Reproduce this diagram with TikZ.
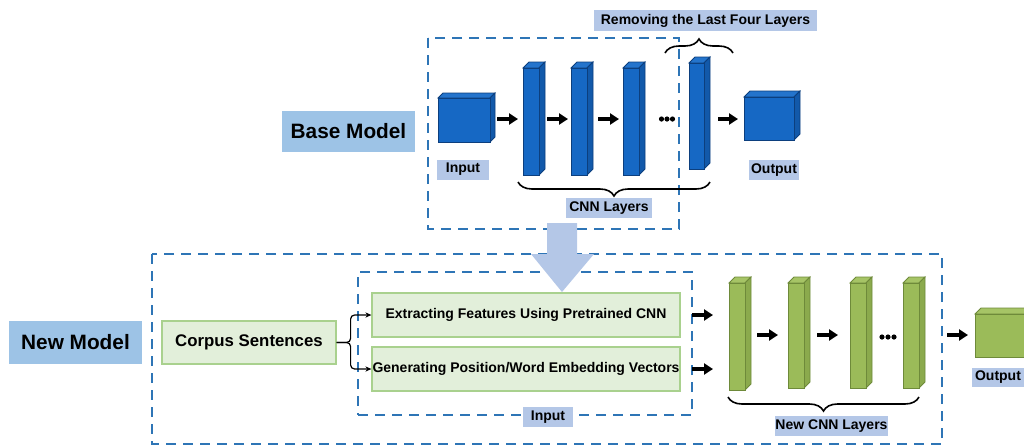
\documentclass[tikz,border=0pt]{standalone}
\usepackage{fontspec}
\setmainfont{Liberation Sans}
\usetikzlibrary{arrows.meta,decorations.pathreplacing}
\definecolor{bfront}{HTML}{1668C4}
\definecolor{btop}{HTML}{2474CC}
\definecolor{bside}{HTML}{1259AA}
\definecolor{bedge}{HTML}{0C3F7E}
\definecolor{gfront}{HTML}{9BBB59}
\definecolor{gtop}{HTML}{A6C466}
\definecolor{gside}{HTML}{8BAA4D}
\definecolor{gedge}{HTML}{6E8A3A}
\definecolor{dashblue}{HTML}{2E75B6}
\definecolor{bigbl}{HTML}{9DC3E6}
\definecolor{lblbl}{HTML}{B4C7E7}
\definecolor{arrbl}{HTML}{B4C7E7}
\definecolor{gbox}{HTML}{E2EFDA}
\definecolor{gboxe}{HTML}{A9D18E}
\newcommand\cuboid[7]{%
 \filldraw[fill=#7top,draw=#7edge,line width=0.4pt] (#2,#3) -- ({#2+#6},{#3-#6}) -- ({#4+#6},{#3-#6}) -- (#4,#3) -- cycle;
 \filldraw[fill=#7side,draw=#7edge,line width=0.4pt] (#4,#3) -- ({#4+#6},{#3-#6}) -- ({#4+#6},{#5-#6}) -- (#4,#5) -- cycle;
 \node[draw=#7edge,fill=#7front,line width=0.4pt,inner sep=0pt,outer sep=0pt,anchor=north west,minimum width={(#4-#2)*0.5pt},minimum height={(#5-#3)*0.5pt}] (#1) at (#2,#3) {};
}
\begin{document}
\begin{tikzpicture}[x=0.5pt,y=-0.5pt,
  lbl/.style={fill=lblbl,inner sep=0pt,font=\fontsize{7}{8}\selectfont\bfseries},
  biglbl/.style={fill=bigbl,inner sep=0pt,font=\fontsize{10.4}{12}\selectfont\bfseries},
  gbx/.style={fill=gbox,draw=gboxe,line width=0.6pt,inner sep=0pt,font=\fontsize{7}{8}\selectfont\bfseries},
  dashbox/.style={draw=dashblue,line width=1pt,dash pattern=on 5pt off 3.5pt},
  arr/.style={line width=1.6pt,-{Triangle[length=4.5pt,width=5.5pt]}},
  thinarr/.style={line width=0.6pt,-{Stealth[length=3pt,width=2.6pt]},rounded corners=2pt},
  brc/.style={line width=0.8pt,decorate,decoration={brace,amplitude=7pt}}]
\useasboundingbox (0,0) rectangle (1024,446);
\clip (0,0) rectangle (1024,446);
% dashed frames
\draw[dashbox] (428,38) rectangle (679,229);
\draw[dashbox] (152,254) rectangle (942,444);
\node[dashbox,inner sep=0pt,outer sep=0pt,anchor=north west,minimum width=167pt,minimum height=71.5pt] (inbox) at (358,272) {};
% big transfer arrow
\fill[arrbl] (547,223) -- (577,223) -- (577,254) -- (594,254) -- (562,292) -- (531,254) -- (547,254) -- cycle;
% base model
\node[biglbl,minimum width=66.5pt,minimum height=20.5pt] (base) at (348.5,131.5) {Base Model};
\cuboid{in}{438}{98}{490}{142}{5}{b}
\cuboid{l1}{523}{68}{539}{175}{6}{b}
\cuboid{l2}{571}{68}{587}{175}{6}{b}
\cuboid{l3}{623}{68}{639}{175}{6}{b}
\cuboid{l4}{689}{63}{704}{169}{6}{b}
\cuboid{out}{744}{97}{794}{140}{6}{b}
\coordinate (r) at (0,119);
\draw[arr] ([xshift=3.5pt]in.east |- r) -- ([xshift=-2.5pt]l1.west |- r);
\draw[arr] ([xshift=4pt]l1.east |- r) -- ([xshift=-1.5pt]l2.west |- r);
\draw[arr] ([xshift=5.5pt]l2.east |- r) -- ([xshift=-2pt]l3.west |- r);
\draw[arr] ([xshift=7pt]l4.east |- r) -- ([xshift=-3pt]out.west |- r);
\foreach \i in {0,1,2} \fill (661.5+\i*5.5,119) circle (1.3pt);
\node[lbl,minimum width=26pt,minimum height=10pt] (inl) at (463,169.5) {Input};
\node[lbl,minimum width=25pt,minimum height=10pt] (outl) at (774,170) {Output};
\node[lbl,minimum width=43pt,minimum height=10pt] (cnnl) at (609,208) {CNN Layers};
\node[lbl,minimum width=111.5pt,minimum height=10.5pt] (rem) at (705.5,20.5) {Removing the Last Four Layers};
\draw[brc] (710,182) -- (518,182);
\draw[brc] (665,53) -- (733,53);
% new model
\node[biglbl,minimum width=66.5pt,minimum height=21.5pt] (newm) at (75.5,342.5) {New Model};
\node[gbx,minimum width=87pt,minimum height=21.5pt,font=\fontsize{8.4}{10}\selectfont\bfseries] (corpus) at (249,342.5) {Corpus Sentences};
\node[gbx,minimum width=154pt,minimum height=22pt] (extract) at (526,315) {Extracting Features Using Pretrained CNN};
\node[gbx,minimum width=154pt,minimum height=22pt] (generate) at (526,369) {Generating Position/Word Embedding Vectors};
\draw[thinarr] (corpus.east) -- ++(7pt,0) |- (extract.west);
\draw[thinarr] (corpus.east) -- ++(7pt,0) |- (generate.west);
\node[lbl,minimum width=25pt,minimum height=10pt] (inl2) at (548,417) {Input};
\cuboid{g1}{729}{283}{745}{390}{6}{g}
\cuboid{g2}{788}{283}{804}{388}{6}{g}
\cuboid{g3}{850}{283}{866}{388}{6}{g}
\cuboid{g4}{903}{283}{919}{388}{6}{g}
\cuboid{gout}{975}{314}{1025}{357}{6}{g}
\draw[arr] (inbox.east |- extract) -- ++(10.5pt,0);
\draw[arr] (inbox.east |- generate) -- ++(10.5pt,0);
\coordinate (gr) at (0,335);
\draw[arr] ([xshift=6pt]g1.east |- gr) -- ([xshift=-5pt]g2.west |- gr);
\draw[arr] ([xshift=6.5pt]g2.east |- gr) -- ([xshift=-6pt]g3.west |- gr);
\draw[arr] ([xshift=14pt]g4.east |- gr) -- ([xshift=-3.5pt]gout.west |- gr);
\foreach \i in {0,1,2} \fill (882+\i*6,337) circle (1.3pt);
\draw[brc] (919,397) -- (728,397);
\node[lbl,minimum width=56.5pt,minimum height=10pt] (ncnn) at (831.5,426) {New CNN Layers};
\node[lbl,minimum width=26pt,minimum height=9.5pt] (outl2) at (998,377.5) {Output};
\end{tikzpicture}
\end{document}
